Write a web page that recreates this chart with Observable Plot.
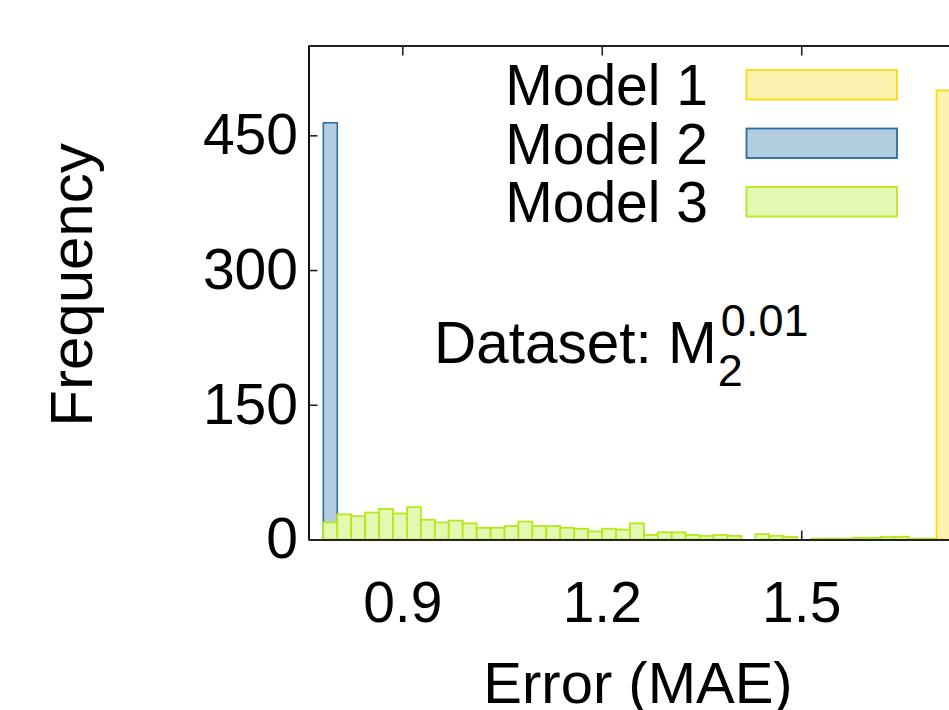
<!DOCTYPE html>
<html><head><meta charset="utf-8">
<script src="https://cdn.jsdelivr.net/npm/d3@7"></script>
<script src="https://cdn.jsdelivr.net/npm/@observablehq/plot@0.6"></script>
<style>
html,body{margin:0;padding:0;background:#fff;}
#chart{position:relative;width:949px;height:710px;overflow:hidden;font-family:"Liberation Sans",Arial,sans-serif;}
#chart svg{position:absolute;left:0;top:0;}
</style></head><body><div id="chart"></div>
<script>
// ---- data ----
const seriesNames = ["Model 1", "Model 2", "Model 3"];
const binEdges = [0.7813,0.8023,0.8232,0.8442,0.8651,0.8861,0.9071,0.9280,0.9490,0.9699,
  0.9909,1.0119,1.0328,1.0538,1.0747,1.0957,1.1167,1.1376,1.1586,1.1795,
  1.2005,1.2215,1.2424,1.2634,1.2843,1.3053,1.3263,1.3472,1.3682,1.3891,
  1.4101,1.4311,1.4520,1.4730,1.4939,1.5149,1.5359,1.5568,1.5778,1.5987,
  1.6197,1.6407,1.6616,1.6826,1.7035,1.7245];
const model1Bins = [44];
const model1Counts = [500];
const model2Bins = [0];
const model2Counts = [464];
const model3Counts = [19,28,26,30,34,29,36,22,19,21,18,13,13,15,20,15,15,13,12,9,
  12,11,18,5,8,8,5,4,5,4,0,6,4,3,0,1,1,1,2,2,3,3,1,1];
const xTicks = [0.9, 1.2, 1.5];
const yTicks = [0, 150, 300, 450];
const xDomain = [0.759, 1.7222];
const yDomain = [0, 550];
const xLabel = "Error (MAE)";
const yLabel = "Frequency";

const colors = {
  "Model 1": {fill: "#fdf3b0", stroke: "#fbd90a"},
  "Model 2": {fill: "#b3cde0", stroke: "#2b6ca3"},
  "Model 3": {fill: "#e3f8b0", stroke: "#b6e81c"}
};

const toRows = (bins, counts) => bins.map((b, i) => ({x1: binEdges[b], x2: binEdges[b + 1], count: counts[i]}));
const m1 = toRows(model1Bins, model1Counts);
const m2 = toRows(model2Bins, model2Counts);
const m3 = toRows(model3Counts.map((_, i) => i), model3Counts);

const barOpts = (name, sw) => ({
  x1: "x1", x2: "x2", y1: () => 0, y2: "count",
  fill: colors[name].fill, stroke: colors[name].stroke, strokeWidth: sw, clip: true
});

const FS = 57;
const chart = Plot.plot({
  width: 949, height: 710,
  marginLeft: 308.5, marginRight: 0, marginTop: 45.5, marginBottom: 170.5,
  x: {domain: xDomain},
  y: {domain: yDomain},
  style: {fontFamily: '"Liberation Sans", Arial, sans-serif', background: "transparent", color: "#000"},
  marks: [
    Plot.axisX({anchor: "top", ticks: xTicks, tickSize: -9, tickFormat: () => "", label: null, stroke: "#222", strokeWidth: 1.6}),
    Plot.axisX({anchor: "bottom", ticks: xTicks, tickSize: -9, tickPadding: 51, tickFormat: d => d.toFixed(1), label: null, fontSize: FS, stroke: "#222", strokeWidth: 1.6, fill: "#000"}),
    Plot.axisY({anchor: "left", ticks: yTicks, tickSize: -9, tickPadding: 20, tickFormat: d => String(d), label: null, fontSize: FS, stroke: "#222", strokeWidth: 1.6, fill: "#000"}),
    Plot.rect(m1, barOpts("Model 1", 1.8)),
    Plot.rect(m2, barOpts("Model 2", 1.6)),
    Plot.rect(m3, barOpts("Model 3", 1.8)),
    Plot.ruleX([xDomain[0]], {stroke: "#111", strokeWidth: 2}),
    Plot.ruleY(yDomain, {stroke: "#222", strokeWidth: 2})
  ]
});
document.getElementById("chart").appendChild(chart);

// ---- overlay text: axis titles, legend, annotation ----
const ov = d3.select("#chart").append("svg")
  .attr("width", 949).attr("height", 710)
  .style("font-family", '"Liberation Sans", Arial, sans-serif');

ov.append("text").text(yLabel)
  .attr("transform", "translate(92,285) rotate(-90)")
  .attr("text-anchor", "middle").attr("font-size", 60);
ov.append("text").text(xLabel)
  .attr("x", 638).attr("y", 703)
  .attr("text-anchor", "middle").attr("font-size", 58);

const legendY = [84.5, 143, 201.5];
seriesNames.forEach((name, i) => {
  ov.append("text").text(name)
    .attr("x", 708).attr("y", legendY[i] + 20.5)
    .attr("text-anchor", "end").attr("font-size", FS);
  ov.append("rect")
    .attr("x", 746.5).attr("y", legendY[i] - 14.5)
    .attr("width", 150.5).attr("height", 29.5)
    .attr("fill", colors[name].fill).attr("stroke", colors[name].stroke)
    .attr("stroke-width", 1.8);
});

const ann = ov.append("g");
const mainT = ann.append("text").text("Dataset: M").attr("x", 434).attr("y", 363).attr("font-size", 58.5);
const endX = 434 + mainT.node().getComputedTextLength();
ann.append("text").text("0.01").attr("x", endX + 4).attr("y", 336).attr("font-size", 45);
ann.append("text").text("2").attr("x", endX + 1).attr("y", 386).attr("font-size", 45);
</script>
</body></html>
